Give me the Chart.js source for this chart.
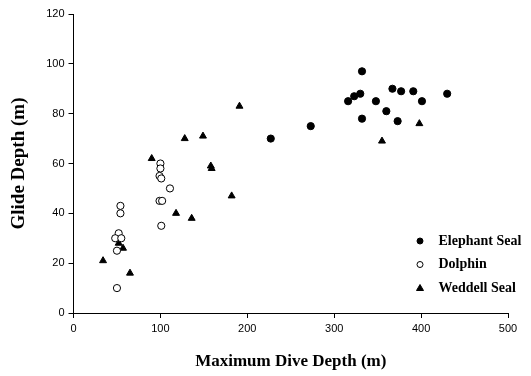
<!DOCTYPE html>
<html>
<head>
<meta charset="utf-8">
<script src="https://cdn.jsdelivr.net/npm/chart.js@4.4.0/dist/chart.umd.min.js"></script>
<style>
  html, body { margin: 0; padding: 0; background: #fff; }
  #wrap { width: 531px; height: 376px; }
</style>
</head>
<body>
<div id="wrap"><canvas id="myGraph" width="531" height="376"></canvas></div>
<script>
// valeurs (profondeur max, profondeur de glisse)
const elephantX = [227, 273, 316, 323, 330, 332, 332, 348, 360, 367, 373, 377, 391, 401, 430];
const elephantY = [70, 75, 85, 87, 88, 97, 78, 85, 81, 90, 77, 89, 89, 85, 88];

const dolphinX = [50, 54, 54, 52, 48, 55, 50, 100, 100, 99, 101, 99, 102, 111, 101];
const dolphinY = [10, 43, 40, 32, 30, 30, 25, 60, 58, 55, 54, 45, 45, 50, 35];

const weddellX = [34, 52, 57, 65, 90, 118, 128, 136, 149, 158, 159, 182, 191, 355, 398];
const weddellY = [21, 28, 26, 16, 62, 40, 70, 38, 71, 59, 58, 47, 83, 69, 76];

const seriesNames = ["Elephant Seal", "Dolphin", "Weddell Seal"];
const xTicks = [0, 100, 200, 300, 400, 500];
const yTicks = [0, 20, 40, 60, 80, 100, 120];

const toPoints = (xs, ys) => xs.map((x, i) => ({ x: x, y: ys[i] }));

// légende dessinée à la main dans le coin bas droit
const cornerLegend = {
  id: "cornerLegend",
  afterDraw(chart) {
    const ctx = chart.ctx;
    ctx.save();
    chart.data.datasets.forEach((ds, i) => {
      const y = 241 + i * 23.5;
      const x = 420;
      ctx.fillStyle = ds.backgroundColor;
      ctx.strokeStyle = "#000";
      ctx.lineWidth = 1;
      ctx.beginPath();
      if (ds.pointStyle === "triangle") {
        ctx.moveTo(x, y - 3.5);
        ctx.lineTo(x + 3.5, y + 2.5);
        ctx.lineTo(x - 3.5, y + 2.5);
        ctx.closePath();
      } else {
        ctx.arc(x, y, 3, 0, Math.PI * 2);
      }
      ctx.fill();
      ctx.stroke();
      ctx.fillStyle = "#000";
      ctx.font = "bold 14px 'Liberation Serif', 'Times New Roman', serif";
      ctx.textBaseline = "middle";
      ctx.fillText(ds.label, 438.5, y);
    });
    ctx.restore();
  },
};

const ctx = document.getElementById("myGraph").getContext("2d");
const myChart = new Chart(ctx, {
  type: "scatter",
  data: {
    datasets: [
      {
        label: seriesNames[0],
        data: toPoints(elephantX, elephantY),
        pointStyle: "circle",
        pointRadius: 3.6,
        backgroundColor: "#000",
        borderColor: "#000",
        borderWidth: 1,
      },
      {
        label: seriesNames[1],
        data: toPoints(dolphinX, dolphinY),
        pointStyle: "circle",
        pointRadius: 3.6,
        backgroundColor: "#fff",
        borderColor: "#000",
        borderWidth: 1,
      },
      {
        label: seriesNames[2],
        data: toPoints(weddellX, weddellY),
        pointStyle: "triangle",
        pointRadius: 4,
        backgroundColor: "#000",
        borderColor: "#000",
        borderWidth: 1,
      },
    ],
  },
  options: {
    responsive: false,
    animation: false,
    layout: { padding: { left: 0, right: 23, top: 14, bottom: 0 } },
    plugins: {
      legend: { display: false },
      tooltip: { enabled: false },
    },
    scales: {
      x: {
        type: "linear",
        min: 0,
        max: 500,
        afterBuildTicks: (s) => { s.ticks = xTicks.map((v) => ({ value: v })); },
        afterFit: (s) => { s.height = 63; },
        grid: { drawOnChartArea: false, drawTicks: true, tickLength: 5, color: "#000" },
        border: { display: true, color: "#000", width: 1 },
        ticks: {
          color: "#000",
          padding: 4,
          font: { family: "'Liberation Sans', Arial, sans-serif", size: 11 },
        },
        title: {
          display: true,
          text: "Maximum Dive Depth (m)",
          color: "#000",
          padding: { top: 16 },
          font: { family: "'Liberation Serif', 'Times New Roman', serif", size: 17, weight: "bold" },
        },
      },
      y: {
        type: "linear",
        min: 0,
        max: 120,
        afterBuildTicks: (s) => { s.ticks = yTicks.map((v) => ({ value: v })); },
        afterFit: (s) => { s.width = 73.5; },
        grid: { drawOnChartArea: false, drawTicks: true, tickLength: 5, color: "#000" },
        border: { display: true, color: "#000", width: 1 },
        ticks: {
          color: "#000",
          padding: 4,
          font: { family: "'Liberation Sans', Arial, sans-serif", size: 11 },
        },
        title: {
          display: true,
          text: "Glide Depth (m)",
          color: "#000",
          padding: { top: 8, bottom: 0 },
          font: { family: "'Liberation Serif', 'Times New Roman', serif", size: 19, weight: "bold" },
        },
      },
    },
  },
  plugins: [cornerLegend],
});
</script>
</body>
</html>
